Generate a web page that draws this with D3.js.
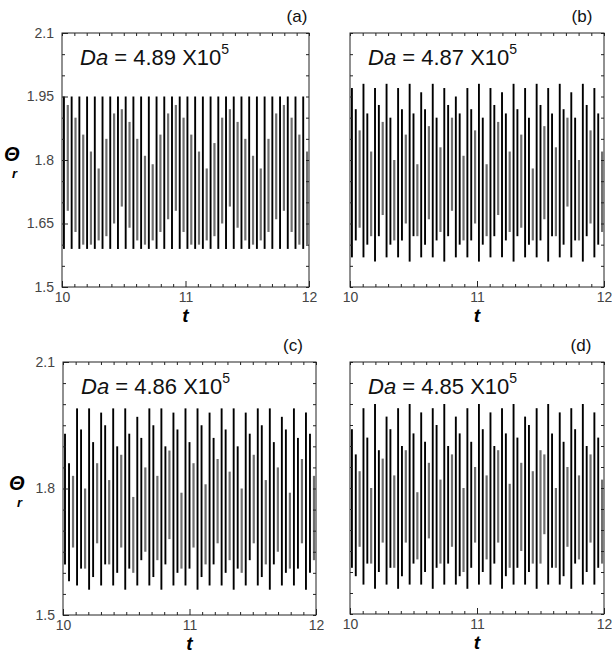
<!DOCTYPE html>
<html>
<head>
<meta charset="utf-8">
<script src="https://cdn.jsdelivr.net/npm/d3@7"></script>
<style>
  body { margin: 0; background: #fff; }
  svg { display: block; }
</style>
</head>
<body>
<svg id="chart"></svg>
<script>
// Canvas size
const width = 612, height = 660;

// Panel labels and Da values
const panelNames = ["(a)", "(b)", "(c)", "(d)"];
const daValues = ["4.89", "4.87", "4.86", "4.85"];

// Tick labels
const xTickLabels = [10, 11, 12];
const yLabelsTop = [1.5, 1.65, 1.8, 1.95, 2.1];
const yLabelsBottom = [1.5, 1.8, 2.1];

// Theta_r swings: top and bottom of each stroke, left to right
const topA = [
  1.95,1.93, 1.95,1.90, 1.95,1.86, 1.95,1.82,
  1.95,1.78, 1.95,1.85, 1.95,1.91, 1.95,1.92,
  1.95,1.89, 1.95,1.85, 1.95,1.81, 1.95,1.79,
  1.95,1.86, 1.95,1.91, 1.95,1.93, 1.95,1.90,
  1.95,1.86, 1.95,1.82, 1.95,1.78, 1.95,1.84,
  1.95,1.90, 1.95,1.92, 1.95,1.89, 1.95,1.85,
  1.95,1.81, 1.95,1.78, 1.95,1.85, 1.95,1.91,
  1.95,1.93, 1.95,1.90, 1.95,1.86, 1.95,1.82
];
const botA = [
  1.59,1.68, 1.59,1.63, 1.59,1.60, 1.59,1.60,
  1.59,1.61, 1.59,1.62, 1.59,1.65, 1.59,1.69,
  1.59,1.64, 1.59,1.61, 1.59,1.60, 1.59,1.61,
  1.59,1.63, 1.59,1.66, 1.59,1.68, 1.59,1.63,
  1.59,1.60, 1.59,1.60, 1.59,1.61, 1.59,1.62,
  1.59,1.65, 1.59,1.69, 1.59,1.64, 1.59,1.61,
  1.59,1.60, 1.59,1.61, 1.59,1.63, 1.59,1.66,
  1.59,1.68, 1.59,1.63, 1.59,1.60, 1.59,1.60
];

const topB = [
  1.97,1.92,1.87, 1.98,1.91,1.82, 1.97,1.93,1.89, 1.98,1.90,1.80,
  1.97,1.92,1.86, 1.98,1.91,1.79, 1.96,1.92,1.88, 1.98,1.90,1.83,
  1.97,1.93,1.90, 1.95,1.91,1.81, 1.97,1.92,1.87, 1.98,1.90,1.79,
  1.97,1.93,1.89, 1.96,1.91,1.82, 1.98,1.92,1.86, 1.97,1.90,1.78,
  1.98,1.93,1.88, 1.97,1.91,1.83, 1.98,1.92,1.90, 1.96,1.90,1.80,
  1.98,1.93,1.87, 1.97,1.91,1.82
];
const botB = [
  1.57,1.61,1.64, 1.57,1.60,1.62, 1.56,1.62,1.67, 1.57,1.60,1.61,
  1.57,1.61,1.65, 1.56,1.62,1.62, 1.57,1.60,1.66, 1.57,1.61,1.63,
  1.56,1.62,1.68, 1.57,1.60,1.61, 1.57,1.61,1.65, 1.56,1.60,1.62,
  1.57,1.62,1.67, 1.57,1.61,1.63, 1.56,1.62,1.64, 1.57,1.60,1.61,
  1.57,1.61,1.66, 1.56,1.62,1.62, 1.57,1.60,1.69, 1.57,1.61,1.61,
  1.56,1.62,1.65, 1.57,1.60,1.63
];

const topC = [
  1.93,1.86,1.83, 1.99,1.94,1.80, 1.99,1.91,1.86, 1.98,1.95,1.82,
  1.99,1.90,1.88, 1.99,1.93,1.78, 1.97,1.92,1.85, 1.99,1.95,1.83,
  1.99,1.90,1.89, 1.98,1.94,1.79, 1.99,1.91,1.86, 1.99,1.95,1.81,
  1.98,1.92,1.87, 1.99,1.94,1.84, 1.99,1.90,1.80, 1.98,1.93,1.88,
  1.99,1.95,1.82, 1.99,1.91,1.85, 1.97,1.94,1.79, 1.99,1.92,1.87,
  1.98,1.93,1.83
];
const botC = [
  1.62,1.58,1.66, 1.57,1.61,1.61, 1.56,1.59,1.67, 1.57,1.62,1.62,
  1.57,1.60,1.66, 1.56,1.61,1.60, 1.57,1.63,1.65, 1.57,1.59,1.63,
  1.56,1.62,1.68, 1.57,1.60,1.61, 1.57,1.61,1.66, 1.56,1.59,1.62,
  1.57,1.62,1.67, 1.57,1.60,1.63, 1.56,1.61,1.60, 1.57,1.63,1.67,
  1.57,1.59,1.62, 1.56,1.62,1.65, 1.57,1.60,1.61, 1.57,1.61,1.67,
  1.56,1.60,1.63
];

const topD = [
  1.94,1.88,1.84, 1.99,1.92,1.80, 2.00,1.89,1.87, 1.97,1.94,1.83,
  1.99,1.90,1.89, 2.00,1.93,1.79, 1.98,1.91,1.86, 1.99,1.95,1.82,
  2.00,1.90,1.88, 1.97,1.93,1.80, 1.99,1.91,1.85, 2.00,1.94,1.83,
  1.98,1.90,1.89, 1.99,1.93,1.81, 2.00,1.92,1.86, 1.97,1.95,1.84,
  1.99,1.89,1.88, 2.00,1.93,1.80, 1.98,1.91,1.85, 1.99,1.94,1.83,
  2.00,1.90,1.88, 1.98,1.92,1.82
];
const botD = [
  1.61,1.59,1.66, 1.57,1.62,1.62, 1.56,1.60,1.67, 1.57,1.61,1.61,
  1.56,1.59,1.67, 1.57,1.62,1.63, 1.57,1.60,1.68, 1.56,1.61,1.62,
  1.57,1.62,1.66, 1.57,1.59,1.60, 1.56,1.61,1.67, 1.57,1.60,1.63,
  1.57,1.62,1.67, 1.56,1.59,1.61, 1.57,1.61,1.65, 1.57,1.60,1.62,
  1.56,1.62,1.69, 1.57,1.61,1.61, 1.57,1.59,1.66, 1.56,1.62,1.63,
  1.57,1.60,1.67, 1.57,1.61,1.62
];

// Panel boxes [left, top, right, bottom] in pixels, plus letter offset from the right edge
const panels = [
  { box: [62, 33, 309, 287],  tops: topA, bots: botA, yLabels: yLabelsTop, letterDx: -12 },
  { box: [350, 33, 604, 287], tops: topB, bots: botB, yLabels: null, letterDx: -22 },
  { box: [63, 362, 316, 615], tops: topC, bots: botC, yLabels: yLabelsBottom, letterDx: -23 },
  { box: [350, 362, 604, 614], tops: topD, bots: botD, yLabels: null, letterDx: -23 }
];

const svg = d3.select("#chart")
    .attr("width", width)
    .attr("height", height)
    .style("font-family", "'Liberation Sans', Arial, sans-serif");

const xMinor = d3.range(0, 21).map(i => 10 + i * 0.1);
const yMinor = d3.range(0, 13).map(i => 1.5 + i * 0.05);
const isIn = (list, v) => list.some(l => Math.abs(l - v) < 1e-6);
const fmt = v => String(+v.toFixed(2));

panels.forEach(function(p, k) {
    const [x0, y0, x1, y1] = p.box;
    const x = d3.scaleLinear().domain([10, 12]).range([x0, x1]);
    const y = d3.scaleLinear().domain([1.5, 2.1]).range([y1, y0]);
    const g = svg.append("g");

    // strokes of the oscillation (full swings dark, partial ones grey)
    const n = p.tops.length;
    const strokes = p.tops.map((t, i) => ({ t: 10 + (i + 0.5) * 2 / n, hi: t, lo: p.bots[i] }));
    g.selectAll(".stroke")
        .data(strokes)
        .join("line")
        .attr("class", "stroke")
        .attr("x1", d => x(d.t)).attr("x2", d => x(d.t))
        .attr("y1", d => y(d.lo)).attr("y2", d => y(d.hi))
        .attr("stroke", d => (d.hi - d.lo) > 0.27 ? "#000" : "#6f6f6f")
        .attr("stroke-width", d => (d.hi - d.lo) > 0.27 ? 1.9 : 2.2);

    // bottom axis, ticks pointing inward
    const bottom = g.append("g")
        .attr("transform", `translate(0,${y1})`)
        .call(d3.axisBottom(x).tickValues(xMinor).tickSize(-3).tickSizeOuter(0).tickPadding(5)
            .tickFormat(v => isIn(xTickLabels, v) ? fmt(v) : ""));
    bottom.selectAll(".tick line").filter(v => isIn(xTickLabels, v)).attr("y2", -6);

    g.append("g")
        .attr("transform", `translate(0,${y0})`)
        .call(d3.axisTop(x).tickValues(xMinor).tickSize(-3).tickSizeOuter(0).tickFormat(""));

    const left = g.append("g")
        .attr("transform", `translate(${x0},0)`)
        .call(d3.axisLeft(y).tickValues(yMinor).tickSize(-3).tickSizeOuter(0).tickPadding(8)
            .tickFormat(v => p.yLabels && isIn(p.yLabels, v) ? fmt(v) : ""));
    if (p.yLabels) left.selectAll(".tick line").filter(v => isIn(p.yLabels, v)).attr("x2", 6);

    g.append("g")
        .attr("transform", `translate(${x1},0)`)
        .call(d3.axisRight(y).tickValues(yMinor).tickSize(-3).tickSizeOuter(0).tickFormat(""));

    g.selectAll(".domain").remove();
    g.selectAll(".tick line").attr("stroke", "#222");
    g.selectAll(".tick text").attr("font-size", 14).attr("fill", "#444")
        .attr("font-family", "'Liberation Sans', Arial, sans-serif");

    // frame
    g.append("rect")
        .attr("x", x0).attr("y", y0)
        .attr("width", x1 - x0).attr("height", y1 - y0)
        .attr("fill", "none").attr("stroke", "#222").attr("stroke-width", 1);

    // Da annotation
    const da = g.append("text")
        .attr("x", x0 + 18)
        .attr("y", y0 + 32)
        .attr("font-size", 22)
        .attr("fill", "#111");
    da.append("tspan").attr("font-style", "italic").text("Da");
    da.append("tspan").text(" = " + daValues[k] + " X10");
    da.append("tspan").attr("font-size", 14).attr("dy", -11).text("5");

    // panel letter
    g.append("text")
        .attr("x", x1 + p.letterDx).attr("y", y0 - 11)
        .attr("text-anchor", "middle")
        .attr("font-size", 17)
        .attr("fill", "#111")
        .text(panelNames[k]);

    // x axis title
    g.append("text")
        .attr("x", (x0 + x1) / 2).attr("y", y1 + 35)
        .attr("text-anchor", "middle")
        .attr("font-size", 19).attr("font-weight", "bold").attr("font-style", "italic")
        .text("t");

    // y axis title: Theta with subscript r
    if (p.yLabels) {
        const tx = k === 0 ? 4 : 9;
        const ty = (y0 + y1) / 2 + 1;
        g.append("text")
            .attr("x", tx).attr("y", ty)
            .attr("font-size", 20).attr("font-weight", "bold").attr("font-style", "italic")
            .text("\u0398");
        g.append("text")
            .attr("x", tx + 8).attr("y", ty + 17)
            .attr("font-size", 13).attr("font-weight", "bold").attr("font-style", "italic")
            .text("r");
    }
});
</script>
</body>
</html>
